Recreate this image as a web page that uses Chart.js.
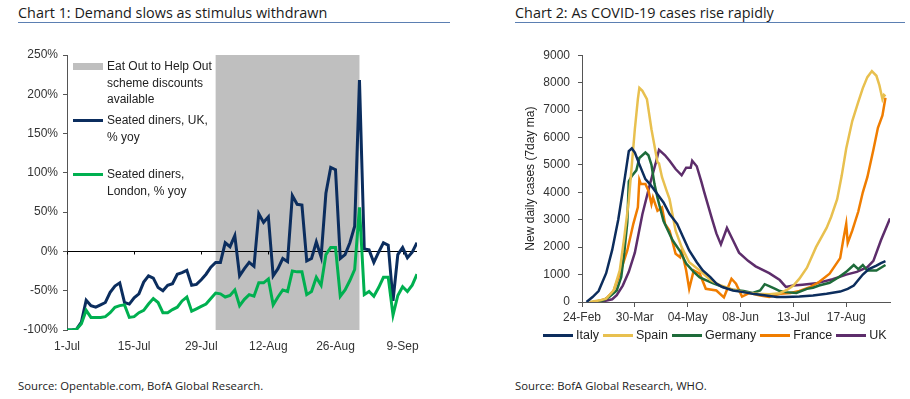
<!DOCTYPE html>
<html>
<head>
<meta charset="utf-8">
<script src="https://cdn.jsdelivr.net/npm/chart.js@4.4.0/dist/chart.umd.min.js"></script>
<style>
  body{margin:0;background:#fff;width:910px;height:399px;position:relative;overflow:hidden;font-family:"Liberation Sans",Arial,sans-serif;color:#222}
  .title{position:absolute;top:4px;font-family:"Open Sans",sans-serif;font-size:14.4px;line-height:17px;color:#1a1a1a;border-bottom:1px solid #5b7fb2;padding-bottom:1px}
  .source{position:absolute;top:378px;font-family:"Open Sans",sans-serif;font-size:11.3px;color:#222}
  canvas{position:absolute}
  .leg1{position:absolute;left:73px;font-size:12px;line-height:16.5px;color:#222}
  .leg1 .sw{position:absolute;left:0;width:30px}
  .leg1 .tx{position:absolute;left:34px;white-space:nowrap}
  #legend2{position:absolute;left:543px;top:328px;display:flex;align-items:center;font-size:12.5px;color:#222;white-space:nowrap}
  #legend2 .sw{display:inline-block;width:30px;height:3px;margin-right:3px}
  #legend2 .it{display:flex;align-items:center;margin-right:4px}
</style>
</head>
<body>
<div class="title" style="left:18px;width:432px">Chart 1: Demand slows as stimulus withdrawn</div>
<div class="title" style="left:515px;width:390px">Chart 2: As COVID-19 cases rise rapidly</div>

<canvas id="dinersChart" width="440" height="320" style="left:0;top:40px"></canvas>
<canvas id="casesChart" width="390" height="290" style="left:520px;top:40px"></canvas>

<div id="legend1"></div>
<div id="legend2"></div>

<div class="source" style="left:18px">Source: Opentable.com, BofA Global Research.</div>
<div class="source" style="left:515px">Source: BofA Global Research, WHO.</div>

<script>
// ---- Chart 1: seated diners, % yoy (day 0 = 1-Jul) ----
const dinerTickDays = [0, 14, 28, 42, 56, 70];
const dinerTickLabels = ['1-Jul', '15-Jul', '29-Jul', '12-Aug', '26-Aug', '9-Sep'];
const schemeWindow = [31, 61]; // Eat Out to Help Out, in days
const ukDiners = [-100,-100,-99,-90,-62,-69,-71,-68,-65,-52,-44,-40,-65,-67,-59,-54,-39,-31,-34,-46,
  -50,-43,-41,-29,-27,-24,-43,-42,-36,-29,-20,-14,-14,11,6,20,-31,-22,-14,-19,
  48,37,44,-31,-22,-9,-13,71,60,59,-12,-9,12,-7,74,107,104,-9,-4,11,
  32,218,3,2,-14,-1,11,8,-63,-4,5,-8,-1,11];
const londonDiners = [-100,-100,-99,-92,-75,-84,-84,-84,-83,-78,-71,-69,-68,-84,-83,-78,-75,-67,-60,-65,
  -78,-78,-74,-71,-63,-58,-76,-73,-70,-67,-60,-53,-54,-58,-56,-49,-69,-61,-55,-57,
  -40,-40,-35,-68,-58,-49,-51,-25,-26,-26,-55,-51,-33,-43,-4,5,5,-57,-49,-37,
  -23,56,-55,-51,-57,-46,-33,-33,-81,-56,-45,-51,-43,-29];
const dinerLegend = [
  {kind: 'area', color: '#bfbfbf', lines: ['Eat Out to Help Out', 'scheme discounts', 'available'], top: 58},
  {kind: 'line', color: '#0b2d5e', lines: ['Seated diners, UK,', '% yoy'], top: 112},
  {kind: 'line', color: '#00b050', lines: ['Seated diners,', 'London, % yoy'], top: 166}
];

// ---- Chart 2: new daily cases, 7day ma (day 0 = 24-Feb) ----
const caseTickDays = [0, 35, 70, 105, 140, 175];
const caseTickLabels = ['24-Feb', '30-Mar', '04-May', '08-Jun', '13-Jul', '17-Aug'];

const italyDays  = [3,7,11,16,20,24,28,31,33,35,38,42,45,49,54,58,63,67,71,76,80,85,89,93,100,107,113,122,129,135,144,153,162,171,176,180,183,186,190,195,198,201];
const italyCases = [0,180,400,1050,1900,3000,4400,5500,5600,5450,5020,4480,4300,4000,3630,3210,2850,2360,1880,1450,1150,910,670,545,420,360,300,240,180,180,200,240,300,380,480,600,800,1000,1200,1330,1420,1490];

const spainDays  = [5,12,16,21,25,28,31,33,35,37,38,40,43,46,50,51,53,56,58,62,66,71,78,85,92,100,108,116,124,131,136,140,144,149,155,162,165,169,172,175,179,183,186,189,192,195,197,199,200,201];
const spainCases = [0,60,120,420,1150,2360,3700,5000,6300,7400,7810,7700,7400,6300,5100,5050,4550,4060,3750,2600,2000,1450,1150,800,600,450,350,300,280,320,450,600,850,1250,2000,2700,3100,3750,4600,5600,6600,7300,7800,8200,8420,8250,7900,7400,7550,7500];

const germanyDays  = [7,14,18,23,26,28,30,31,33,36,38,42,44,46,48,50,54,57,60,65,69,74,78,82,87,93,100,107,113,118,121,124,128,131,135,142,149,153,157,164,170,175,178,180,183,186,189,195,198,201];
const germanyCases = [0,60,180,420,910,1800,2900,4400,4600,4800,5250,5450,5350,5000,4300,3800,2950,2600,2250,1850,1400,1100,900,800,680,550,450,400,330,420,650,580,480,400,360,330,480,520,600,700,900,1100,1250,1350,1200,1350,1150,1150,1250,1350];

const franceDays  = [9,16,21,25,30,34,37,38,39,42,44,46,47,50,53,55,58,62,65,66,69,71,74,78,82,89,94,99,102,106,111,118,124,131,138,144,151,157,164,171,173,175,176,179,183,186,189,193,196,199,201];
const franceCases = [0,120,420,1030,1880,2850,3450,4450,4300,4300,4060,3570,3810,3330,3450,2850,2600,1760,1630,1880,1150,480,1150,1030,480,420,170,850,670,200,330,240,180,300,330,400,545,730,1030,1600,2250,2850,2150,2600,3300,4000,4550,5550,6350,6800,7450];

const ukDays  = [12,20,23,27,31,35,40,45,49,51,55,58,62,66,69,72,73,76,79,81,86,89,92,96,100,104,110,115,124,131,135,140,146,155,166,175,182,189,193,198,204];
const ukCases = [0,100,250,600,1100,1800,3200,4300,5100,5550,5350,5150,4850,4620,4900,4900,5150,4950,4400,4000,3050,2500,2100,2700,2250,1800,1500,1300,1050,800,550,600,630,680,830,1000,1100,1270,1500,2250,3050];

const countrySeries = [
  {label: 'Italy',   color: '#0c2d5d', days: italyDays,   cases: italyCases},
  {label: 'Spain',   color: '#e8c04f', days: spainDays,   cases: spainCases},
  {label: 'Germany', color: '#1e6b3a', days: germanyDays, cases: germanyCases},
  {label: 'France',  color: '#f07d00', days: franceDays,  cases: franceCases},
  {label: 'UK',      color: '#5d2d6b', days: ukDays,      cases: ukCases}
];

const tickFont = {family: '"Liberation Sans", Arial, sans-serif', size: 12};

// grey band behind the lines for the discount scheme
const schemeShade = {
  id: 'schemeShade',
  beforeDraw(chart) {
    const {ctx, chartArea, scales} = chart;
    const x0 = scales.x.getPixelForValue(schemeWindow[0]);
    const x1 = scales.x.getPixelForValue(schemeWindow[1]);
    ctx.save();
    ctx.fillStyle = '#bfbfbf';
    ctx.fillRect(x0, chartArea.top, x1 - x0, chartArea.bottom - chartArea.top);
    ctx.restore();
  }
};

// small tick marks hanging off the 0% line
const zeroTicks = {
  id: 'zeroTicks',
  beforeDatasetsDraw(chart) {
    const {ctx, scales} = chart;
    const y0 = Math.round(scales.y.getPixelForValue(0)) + 0.5;
    ctx.save();
    ctx.strokeStyle = '#000';
    ctx.lineWidth = 1;
    dinerTickDays.forEach(d => {
      const x = Math.round(scales.x.getPixelForValue(d)) + 0.5;
      ctx.beginPath(); ctx.moveTo(x, y0); ctx.lineTo(x, y0 + 3); ctx.stroke();
    });
    ctx.restore();
  }
};

new Chart(document.getElementById('dinersChart'), {
  type: 'line',
  data: {
    datasets: [
      {label: 'Seated diners, London, % yoy', data: londonDiners.map((v, i) => ({x: i, y: v})),
       borderColor: '#00b050', borderWidth: 3, order: 0},
      {label: 'Seated diners, UK, % yoy', data: ukDiners.map((v, i) => ({x: i, y: v})),
       borderColor: '#0b2d5e', borderWidth: 3, order: 1}
    ]
  },
  options: {
    responsive: false,
    animation: false,
    layout: {padding: {top: 15, right: 23, left: 0, bottom: 0}},
    elements: {point: {radius: 0}, line: {tension: 0}},
    plugins: {legend: {display: false}, tooltip: {enabled: false}},
    scales: {
      x: {
        type: 'linear', min: 0, max: 73,
        afterBuildTicks: s => { s.ticks = dinerTickDays.map(v => ({value: v})); },
        afterFit: s => { s.height = 30; },
        ticks: {callback: v => dinerTickLabels[dinerTickDays.indexOf(v)], font: tickFont, color: '#333',
                padding: 9, maxRotation: 0, autoSkip: false},
        grid: {display: false, drawTicks: false},
        border: {display: false}
      },
      y: {
        min: -100, max: 250,
        afterFit: s => { s.width = 67; },
        ticks: {stepSize: 50, callback: v => v + '%', font: tickFont, color: '#333', padding: 5},
        grid: {color: c => (c.tick && c.tick.value === 0) ? '#000' : 'rgba(0,0,0,0)', tickLength: 4, tickColor: '#555'},
        border: {display: true, color: '#555'}
      }
    }
  },
  plugins: [schemeShade, zeroTicks]
});

const casesChart = new Chart(document.getElementById('casesChart'), {
  type: 'line',
  data: {
    datasets: countrySeries.map(s => ({
      label: s.label,
      data: s.days.map((d, i) => ({x: d, y: s.cases[i]})),
      borderColor: s.color, backgroundColor: s.color, borderWidth: 2.5
    }))
  },
  options: {
    responsive: false,
    animation: false,
    layout: {padding: {top: 14, right: 20, left: 0, bottom: 0}},
    elements: {point: {radius: 0}, line: {tension: 0}},
    plugins: {legend: {display: false}, tooltip: {enabled: false}},
    scales: {
      x: {
        type: 'linear', min: 0, max: 204,
        afterBuildTicks: s => { s.ticks = caseTickDays.map(v => ({value: v})); },
        afterFit: s => { s.height = 28; },
        ticks: {callback: v => caseTickLabels[caseTickDays.indexOf(v)], font: tickFont, color: '#333',
                padding: 3, maxRotation: 0, autoSkip: false},
        grid: {drawOnChartArea: false, tickLength: 5, color: '#555'},
        border: {color: '#555'}
      },
      y: {
        min: 0, max: 9000,
        afterFit: s => { s.width = 62; },
        ticks: {stepSize: 1000, callback: v => String(v), font: tickFont, color: '#333', padding: 8},
        grid: {drawOnChartArea: false, tickLength: 4, color: '#555'},
        border: {color: '#555'},
        title: {display: true, text: 'New daily cases (7day ma)', font: tickFont, color: '#222', padding: {top: 3, bottom: 0}}
      }
    }
  }
});

// legends in html
const leg1 = document.getElementById('legend1');
dinerLegend.forEach(item => {
  const div = document.createElement('div');
  div.className = 'leg1';
  div.style.top = item.top + 'px';
  const swH = item.kind === 'area' ? 7 : 3;
  div.innerHTML = `<span class="sw" style="top:${(16.5 - swH) / 2}px;height:${swH}px;background:${item.color}"></span>` +
    `<span class="tx">${item.lines.join('<br>')}</span>`;
  leg1.appendChild(div);
});

const leg2 = document.getElementById('legend2');
casesChart.data.datasets.forEach(ds => {
  const it = document.createElement('span');
  it.className = 'it';
  it.innerHTML = `<span class="sw" style="background:${ds.borderColor}"></span>${ds.label}`;
  leg2.appendChild(it);
});
</script>
</body>
</html>
